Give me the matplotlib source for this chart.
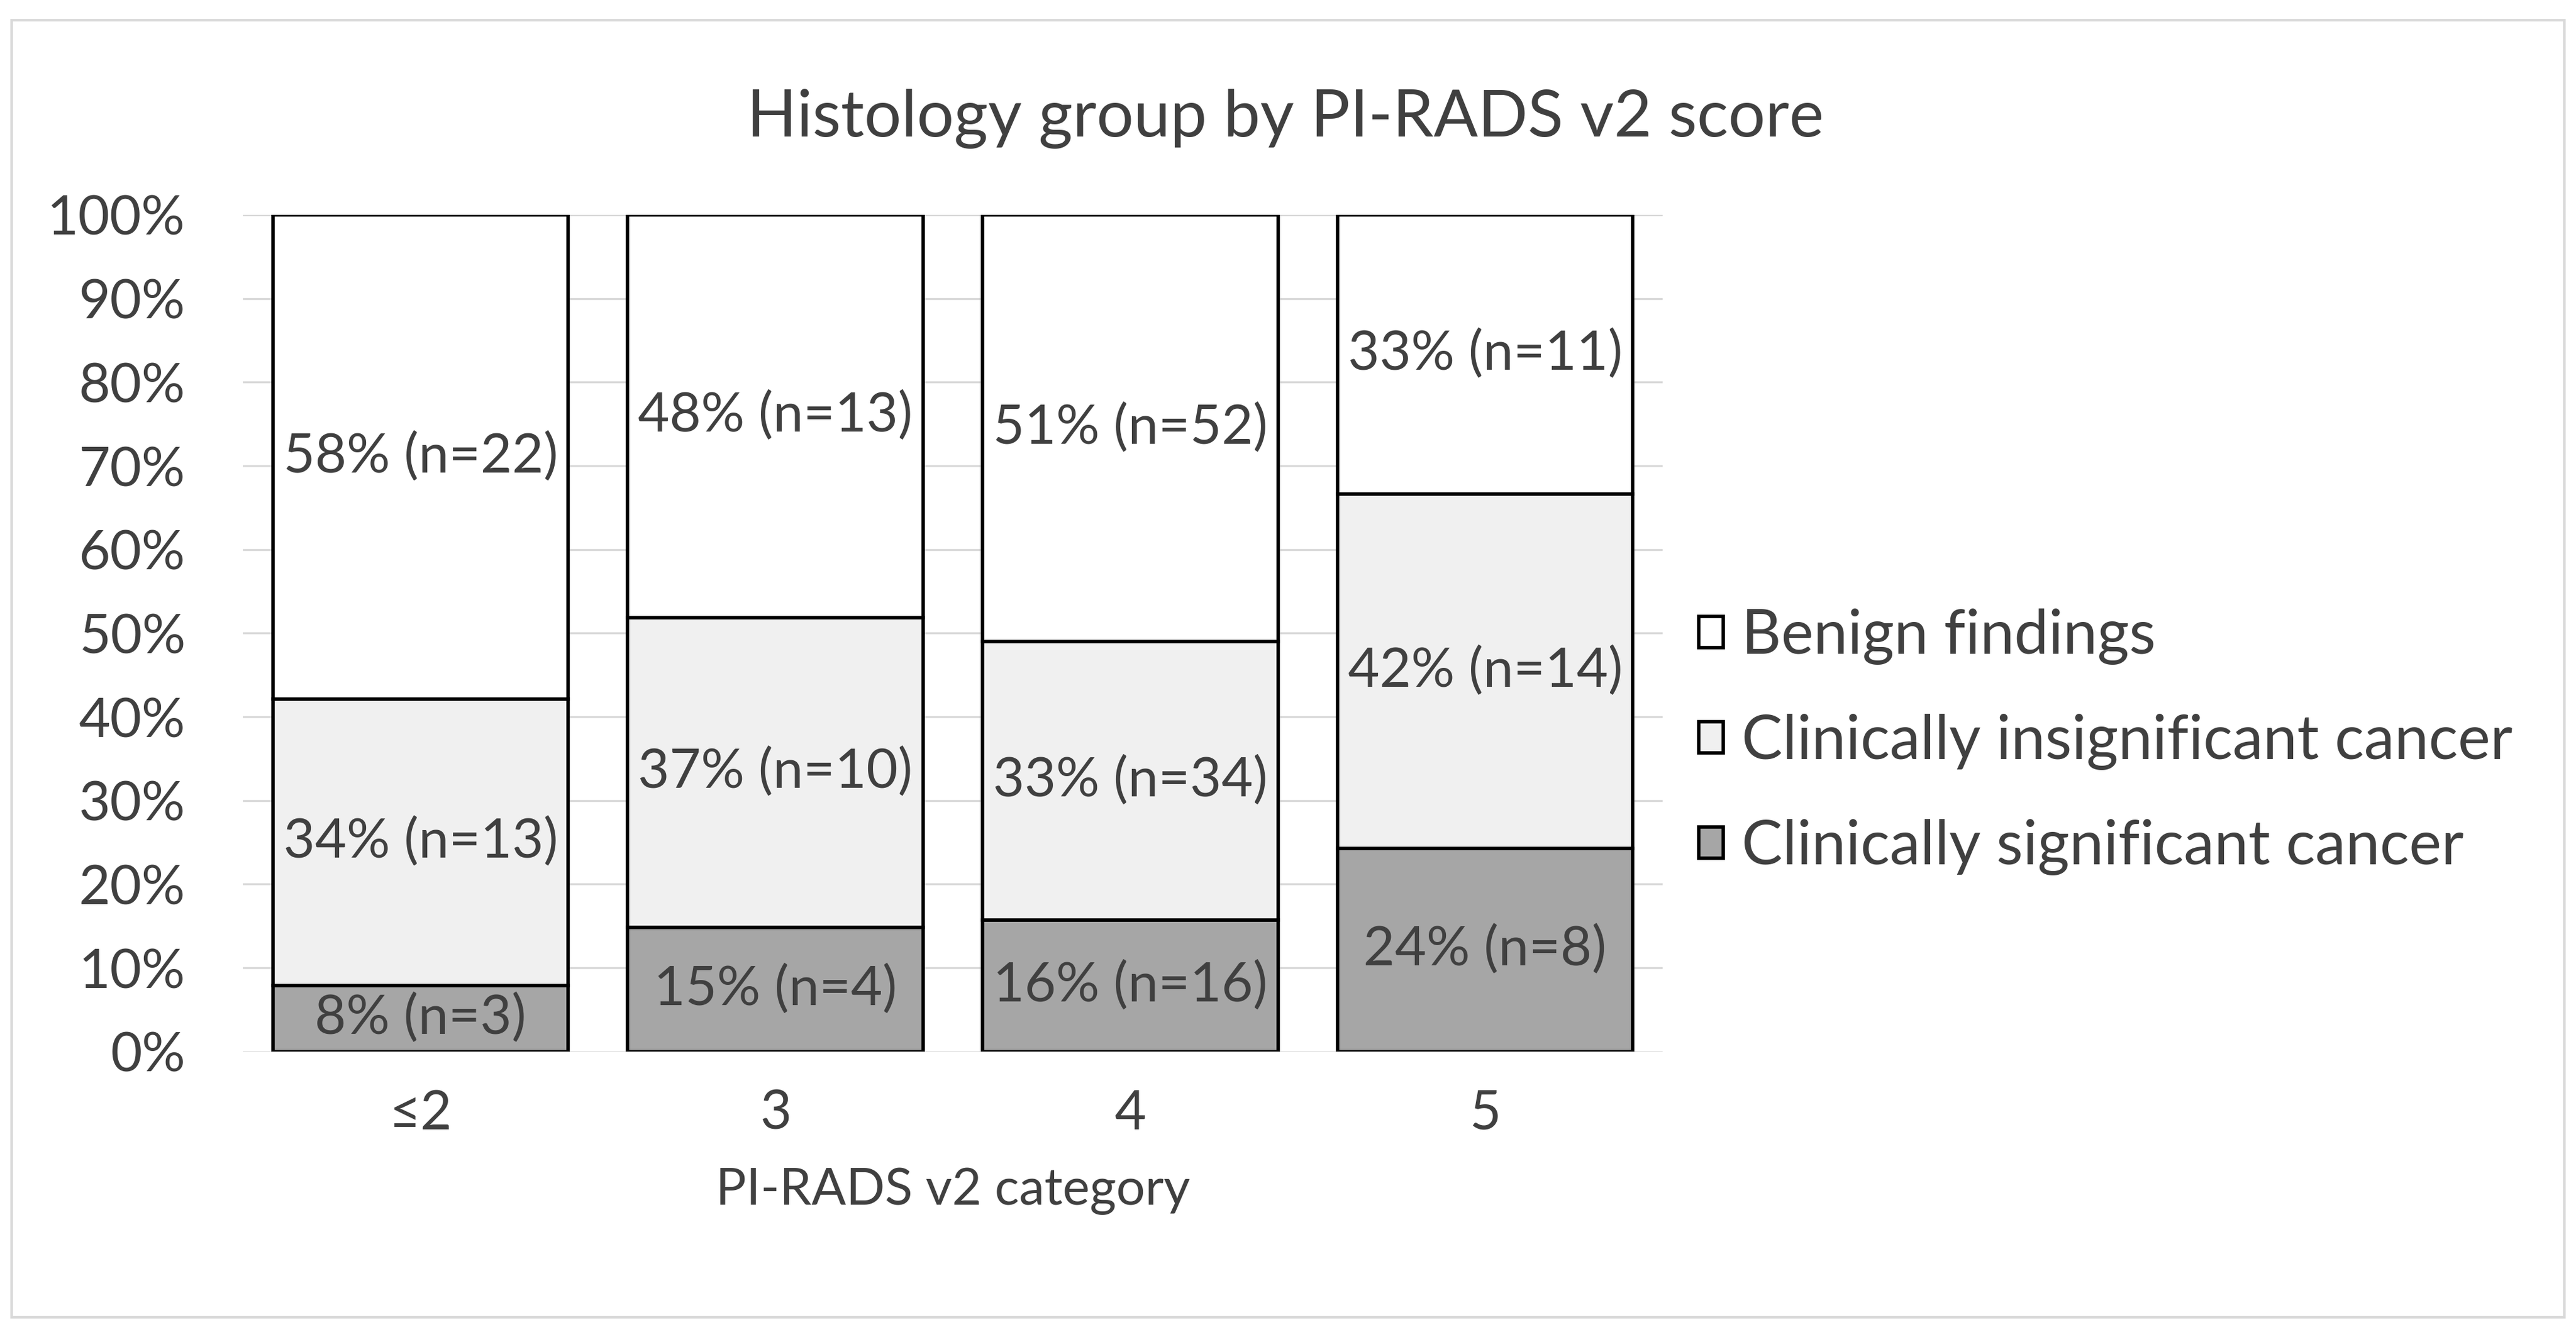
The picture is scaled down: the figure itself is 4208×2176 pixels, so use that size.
import matplotlib
matplotlib.use("Agg")
import matplotlib.pyplot as plt
import numpy as np
from matplotlib.patches import Rectangle

plt.rcParams['font.family'] = ['Lato', 'DejaVu Sans']

categories = ["≤2", "3", "4", "5"]
series_names = ["Clinically significant cancer",
                "Clinically insignificant cancer",
                "Benign findings"]
significant_n = [3, 4, 16, 8]
insignificant_n = [13, 10, 34, 14]
benign_n = [22, 13, 52, 11]
significant_pct = [8, 15, 16, 24]
insignificant_pct = [34, 37, 33, 42]
benign_pct = [58, 48, 51, 33]

counts = np.array([significant_n, insignificant_n, benign_n], dtype=float)
shares = counts / counts.sum(axis=0) * 100
pct_labels = [significant_pct, insignificant_pct, benign_pct]
colors = ["#a6a6a6", "#f0f0f0", "#ffffff"]
text_col = "#404040"

fig = plt.figure(figsize=(21.04, 10.88), dpi=200)
ax = fig.add_axes([0.0944, 0.2106, 0.551, 0.6281])

x = np.arange(len(categories))
bottom = np.zeros(len(categories))
handles = []
for i in range(3):
    bars = ax.bar(x, shares[i], 0.833, bottom=bottom, color=colors[i],
                  edgecolor="black", linewidth=2.0, zorder=3,
                  label=series_names[i])
    handles.append(bars)
    for j in range(len(categories)):
        ax.text(x[j], bottom[j] + shares[i][j] / 2,
                f"{pct_labels[i][j]}% (n={int(counts[i][j])})",
                ha="center", va="center", fontsize=32, color=text_col,
                zorder=4)
    bottom += shares[i]

ax.set_xlim(-0.5, 3.5)
ax.set_ylim(0, 100)
ax.set_yticks(np.arange(0, 101, 10))
ax.set_yticklabels([f"{v}%" for v in range(0, 101, 10)])
ax.set_xticks(x)
ax.set_xticklabels(categories)
ax.tick_params(axis="y", length=0, pad=34, labelsize=32, labelcolor=text_col)
ax.tick_params(axis="x", length=0, pad=22, labelsize=32, labelcolor=text_col)
ax.yaxis.grid(True, color="#d9d9d9", linewidth=1.2, zorder=0)
ax.set_axisbelow(True)
for s in ax.spines.values():
    s.set_visible(False)
ax.set_xlabel("PI-RADS v2 category", fontsize=30, color=text_col, labelpad=17)

fig.text(0.499, 0.911, "Histology group by PI-RADS v2 score",
         ha="center", va="center", fontsize=38.5, color=text_col)

fig.legend(handles[::-1], series_names[::-1], loc="center left",
           bbox_to_anchor=(0.638, 0.443), frameon=False, fontsize=36,
           handlelength=0.4, handleheight=0.4, handletextpad=0.3,
           labelspacing=0.8, labelcolor=text_col)

fig.patches.append(Rectangle((0.0045, 0.011), 0.991, 0.974,
                             transform=fig.transFigure, fill=False,
                             edgecolor="#d9d9d9", linewidth=1.5))

fig.savefig("out.png", dpi=200)
